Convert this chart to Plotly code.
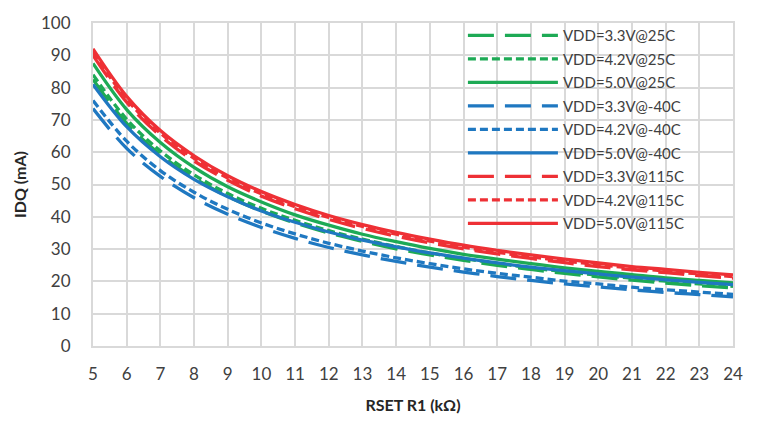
import plotly.graph_objects as go

rset = [5, 6, 7, 8, 9, 10, 11, 12, 13, 14, 15, 16, 17, 18, 19, 20, 21, 22, 23, 24]

g33 = [82.5, 68.9, 59.2, 52.0, 46.3, 41.8, 38.1, 35.0, 32.4, 30.1, 28.2, 26.5, 25.0, 23.7, 22.5, 21.4, 20.4, 19.5, 18.7, 18.0]
g42 = [84.0, 70.2, 60.4, 53.0, 47.2, 42.6, 38.9, 35.7, 33.1, 30.8, 28.8, 27.1, 25.6, 24.2, 23.0, 21.9, 21.0, 20.1, 19.2, 18.5]
g50 = [87.5, 73.2, 63.0, 55.3, 49.3, 44.6, 40.6, 37.4, 34.6, 32.3, 30.2, 28.4, 26.9, 25.5, 24.2, 23.1, 22.1, 21.1, 20.3, 19.5]
b33 = [73.5, 61.2, 52.5, 45.9, 40.8, 36.7, 33.3, 30.5, 28.2, 26.2, 24.4, 22.9, 21.5, 20.3, 19.2, 18.3, 17.4, 16.6, 15.9, 15.2]
b42 = [76.0, 63.4, 54.3, 47.6, 42.3, 38.1, 34.7, 31.8, 29.4, 27.3, 25.5, 23.9, 22.5, 21.3, 20.1, 19.2, 18.2, 17.4, 16.7, 16.0]
b50 = [81.0, 67.9, 58.6, 51.6, 46.2, 41.8, 38.3, 35.3, 32.8, 30.7, 28.8, 27.2, 25.7, 24.4, 23.3, 22.3, 21.3, 20.5, 19.7, 19.0]
r33 = [90.0, 75.5, 65.1, 57.3, 51.3, 46.4, 42.5, 39.2, 36.4, 34.0, 31.9, 30.1, 28.5, 27.1, 25.8, 24.6, 23.6, 22.7, 21.8, 21.0]
r42 = [91.0, 76.4, 65.9, 58.1, 52.0, 47.1, 43.1, 39.8, 37.0, 34.6, 32.5, 30.6, 29.0, 27.6, 26.3, 25.2, 24.1, 23.2, 22.3, 21.5]
r50 = [92.0, 77.3, 66.7, 58.9, 52.7, 47.8, 43.8, 40.4, 37.6, 35.2, 33.1, 31.2, 29.6, 28.2, 26.9, 25.7, 24.6, 23.7, 22.8, 22.0]

names = ["VDD=3.3V@25C", "VDD=4.2V@25C", "VDD=5.0V@25C",
         "VDD=3.3V@-40C", "VDD=4.2V@-40C", "VDD=5.0V@-40C",
         "VDD=3.3V@115C", "VDD=4.2V@115C", "VDD=5.0V@115C"]
series = [g33, g42, g50, b33, b42, b50, r33, r42, r50]

GREEN, BLUE, RED = "#1DAA55", "#1F78C1", "#EE3035"
colors = [GREEN] * 3 + [BLUE] * 3 + [RED] * 3
LONG, SHORT = "26px,11px", "8px,4px"
dashes = [LONG, SHORT, "solid"] * 3

fig = go.Figure()
for i, (nm, ys, c, d) in enumerate(zip(names, series, colors, dashes)):
    fig.add_trace(go.Scatter(x=rset, y=ys, name=nm, mode="lines", legendgroup=f"g{i}",
                             line=dict(color=c, width=3.3, dash=d, shape="spline")))

fig.update_layout(
    width=757, height=424,
    margin=dict(l=93, r=24, t=17, b=75),
    paper_bgcolor="white", plot_bgcolor="white",
    font=dict(family="Lato, Open Sans, sans-serif", color="#404040", size=17),
    legend=dict(x=0.578, y=1.012, xanchor="left", yanchor="top",
                bgcolor="rgba(0,0,0,0)", font=dict(size=15, color="#404040"),
                itemwidth=90, tracegroupgap=1, maxheight=400),
    xaxis=dict(range=[5, 24], tickmode="array", tickvals=rset,
               showgrid=True, gridcolor="#D9D9D9", gridwidth=2,
               showline=True, linecolor="#D9D9D9", linewidth=2, mirror=True,
               ticks="outside", ticklen=12, tickcolor="rgba(0,0,0,0)",
               zeroline=False,
               title=dict(text="<b>RSET R1 (kΩ)</b>", font=dict(size=16, color="#262626"), standoff=16)),
    yaxis=dict(range=[0, 100], tickmode="array", tickvals=list(range(0, 101, 10)),
               showgrid=True, gridcolor="#D9D9D9", gridwidth=2,
               showline=True, linecolor="#D9D9D9", linewidth=2, mirror=True,
               ticks="outside", ticklen=17, tickcolor="rgba(0,0,0,0)",
               zeroline=False,
               title=dict(text="<b>IDQ (mA)</b>", font=dict(size=16, color="#262626"), standoff=10)),
)

fig.write_html("out.html")
